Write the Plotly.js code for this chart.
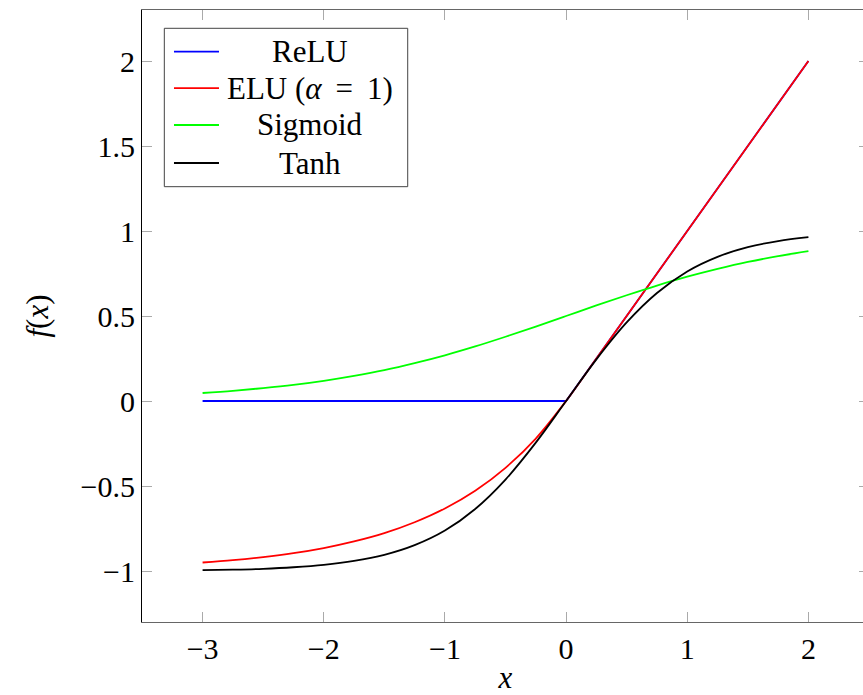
<!DOCTYPE html>
<html>
<head>
<meta charset="utf-8">
<script src="https://cdn.plot.ly/plotly-3.0.1.min.js"></script>
<style>
  html, body { margin: 0; padding: 0; overflow: hidden; background: #fff; }
  #chart { width: 875px; height: 695px; }
</style>
</head>
<body>
<div id="chart"></div>
<script>
// Sample points of the four activation functions on [-3, 2]
const xs = [-3, -2.75, -2.5, -2.25, -2, -1.75, -1.5, -1.25, -1, -0.75, -0.5, -0.25,
            0, 0.25, 0.5, 0.75, 1, 1.25, 1.5, 1.75, 2];
const reluY = [0, 0, 0, 0, 0, 0, 0, 0, 0, 0, 0, 0,
               0, 0.25, 0.5, 0.75, 1, 1.25, 1.5, 1.75, 2];
const eluY = [-0.950, -0.936, -0.918, -0.895, -0.865, -0.826, -0.777, -0.713, -0.632, -0.528, -0.393, -0.221,
              0, 0.25, 0.5, 0.75, 1, 1.25, 1.5, 1.75, 2];
const sigmoidY = [0.047, 0.060, 0.076, 0.095, 0.119, 0.148, 0.182, 0.223, 0.269, 0.321, 0.378, 0.438,
                  0.500, 0.562, 0.622, 0.679, 0.731, 0.777, 0.818, 0.852, 0.881];
const tanhY = [-0.995, -0.992, -0.987, -0.978, -0.964, -0.941, -0.905, -0.848, -0.762, -0.635, -0.462, -0.245,
               0, 0.245, 0.462, 0.635, 0.762, 0.848, 0.905, 0.941, 0.964];

const seriesNames = ['ReLU', 'ELU (<i>α</i> \u2009=\u2009 1)', 'Sigmoid', 'Tanh'];
const seriesColors = ['#0000ff', '#ff0000', '#00ff00', '#000000'];
const seriesValues = [reluY, eluY, sigmoidY, tanhY];
const seriesShapes = ['linear', 'spline', 'spline', 'spline'];

const xTicks = [-3, -2, -1, 0, 1, 2];
const yTicks = [-1, -0.5, 0, 0.5, 1, 1.5, 2];

const serif = 'Liberation Serif';

const traces = seriesValues.map((ys, i) => ({
  type: 'scatter',
  mode: 'lines',
  x: xs,
  y: ys,
  name: seriesNames[i],
  line: { color: seriesColors[i], width: 1.8, shape: seriesShapes[i], smoothing: 1 },
  showlegend: false,
  hoverinfo: 'skip'
}));

// Hand-built legend box with centred entries
const legendRows = [0.9319, 0.8725, 0.8121, 0.7500];
const shapes = [{
  type: 'rect', xref: 'paper', yref: 'paper',
  x0: 0.0307, x1: 0.3655, y0: 0.7113, y1: 0.9701,
  line: { color: '#444', width: 1 }, fillcolor: 'rgba(255,255,255,1)', layer: 'above'
}];
const annotations = [];
seriesNames.forEach((name, i) => {
  shapes.push({
    type: 'line', xref: 'paper', yref: 'paper',
    x0: 0.0440, x1: 0.1059, y0: legendRows[i], y1: legendRows[i],
    line: { color: seriesColors[i], width: 1.8 }, layer: 'above'
  });
  annotations.push({
    xref: 'paper', yref: 'paper', x: 0.2304, y: legendRows[i],
    xanchor: 'center', yanchor: 'middle', showarrow: false,
    text: name, font: { family: serif, size: 31, color: '#000' }
  });
});

const layout = {
  width: 875,
  height: 695,
  margin: { l: 142, r: 6, t: 10, b: 73 },
  paper_bgcolor: '#fff',
  plot_bgcolor: '#fff',
  showlegend: false,
  font: { family: serif, size: 30, color: '#000' },
  xaxis: {
    range: [-3.5, 2.5],
    tickvals: xTicks,
    ticks: 'inside', ticklen: 10, tickwidth: 1, tickcolor: '#aaa',
    showline: true, linecolor: '#666', linewidth: 1.2, mirror: 'ticks',
    showgrid: false, zeroline: false,
    tickfont: { family: serif, size: 30, color: '#000' },
    title: { text: '<i>x</i>', font: { family: serif, size: 31, color: '#000' }, standoff: 15 }
  },
  yaxis: {
    range: [-1.3, 2.3],
    tickvals: yTicks,
    ticks: 'inside', ticklen: 10, tickwidth: 1, tickcolor: '#aaa',
    showline: true, linecolor: '#000', linewidth: 1, mirror: 'ticks',
    showgrid: false, zeroline: false,
    tickfont: { family: serif, size: 30, color: '#000' },
    title: { text: '<i>f</i>(<i>x</i>)', font: { family: serif, size: 31, color: '#000' }, standoff: 22 }
  },
  shapes: shapes,
  annotations: annotations
};

Plotly.newPlot('chart', traces, layout, { displayModeBar: false, staticPlot: true });
</script>
</body>
</html>
